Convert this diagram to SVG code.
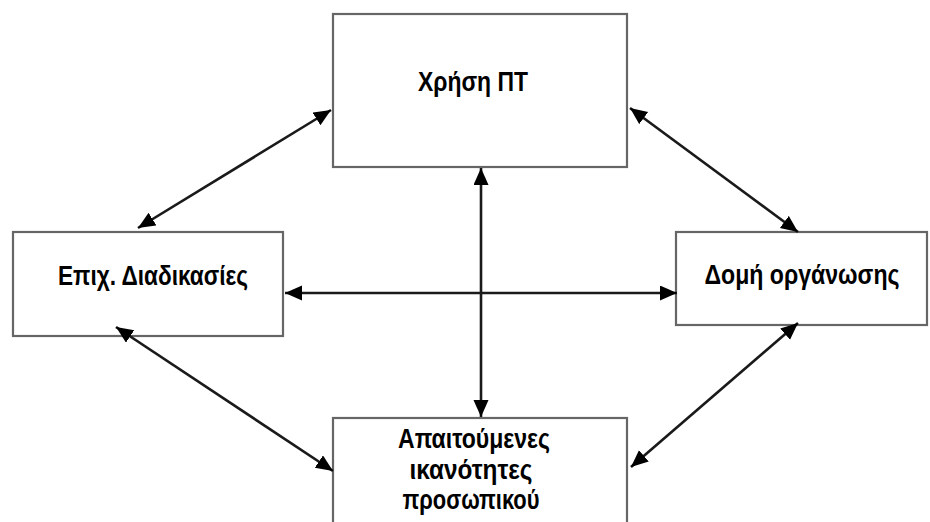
<svg xmlns="http://www.w3.org/2000/svg" width="930" height="522" viewBox="0 0 930 522">
<style>
.box{fill:#fff;stroke:#666;stroke-width:2.2}
.lbl{font-family:"Liberation Sans",Arial,sans-serif;font-weight:bold;font-size:28px;fill:#000;text-anchor:middle}
.conn{stroke:#1a1a1a;stroke-width:2.6;fill:none;marker-start:url(#ah);marker-end:url(#ah)}
</style>
<defs>
<marker id="ah" markerUnits="userSpaceOnUse" markerWidth="18" markerHeight="16" refX="17" refY="7.5" orient="auto-start-reverse">
<path d="M0,0 L17,7.5 L0,15 z" fill="#000"/>
</marker>
</defs>
<rect width="930" height="522" fill="#fff"/>
<g id="n-xrisi">
<rect class="box" x="333" y="14" width="294" height="153"/>
<text class="lbl" x="473" y="91" textLength="110" lengthAdjust="spacingAndGlyphs">Χρήση ΠΤ</text>
</g>
<g id="n-epix">
<rect class="box" x="13" y="232" width="270" height="104"/>
<text class="lbl" x="153" y="285" textLength="190" lengthAdjust="spacingAndGlyphs">Επιχ. Διαδικασίες</text>
</g>
<g id="n-domi">
<rect class="box" x="676" y="232" width="251" height="93"/>
<text class="lbl" x="802" y="284" textLength="195" lengthAdjust="spacingAndGlyphs">Δομή οργάνωσης</text>
</g>
<g id="n-apait">
<rect class="box" x="333" y="418" width="294" height="120"/>
<text class="lbl" x="474" y="448" textLength="152" lengthAdjust="spacingAndGlyphs">Απαιτούμενες</text>
<text class="lbl" x="471" y="479" textLength="123" lengthAdjust="spacingAndGlyphs">ικανότητες</text>
<text class="lbl" x="471" y="509" textLength="137" lengthAdjust="spacingAndGlyphs">προσωπικού</text>
</g>
<g id="connectors">
<line class="conn" x1="331" y1="110" x2="138" y2="228"/>
<line class="conn" x1="630" y1="108" x2="798" y2="232"/>
<line class="conn" x1="285" y1="293" x2="677" y2="293"/>
<line class="conn" x1="481" y1="168" x2="481" y2="417"/>
<line class="conn" x1="116" y1="327" x2="333" y2="471"/>
<line class="conn" x1="798" y1="323" x2="631" y2="467"/>
</g>
</svg>
